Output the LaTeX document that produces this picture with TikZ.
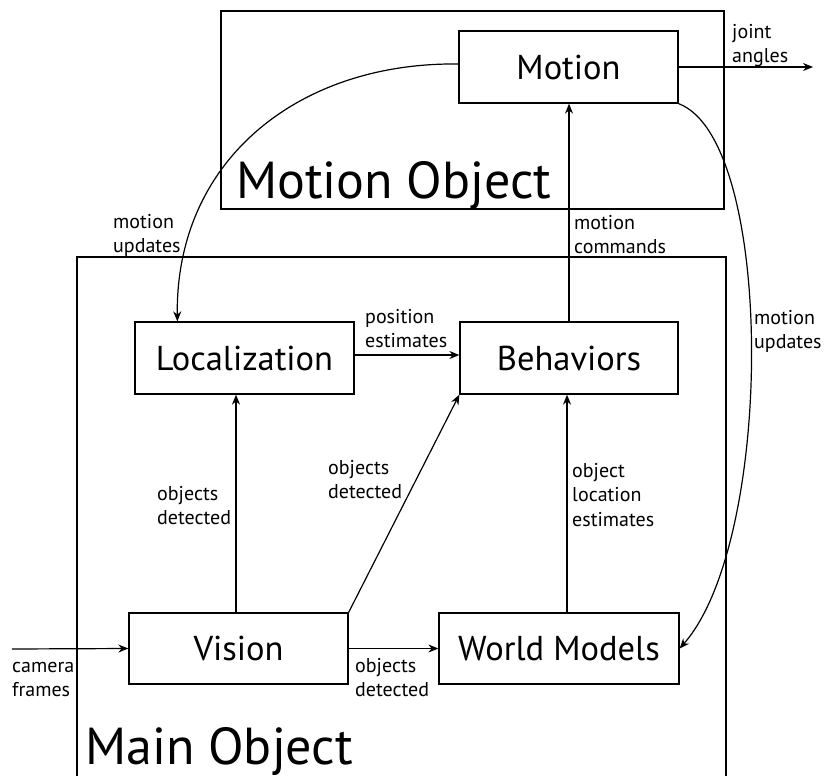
\documentclass[tikz,border=0pt]{standalone}
\usepackage{fontspec}
\setmainfont{PT Sans}
\usetikzlibrary{arrows.meta,calc}
\begin{document}
\begin{tikzpicture}[x=1pt,y=-1pt,
  box/.style={draw,line width=1.3pt,minimum width=219pt,minimum height=72pt,inner sep=0pt,font=\fontsize{34.5}{36}\selectfont},
  frame/.style={draw,line width=1.3pt},
  conn/.style={line width=1.2pt,-{Stealth[length=10pt,width=8pt]}},
  lbl/.style={inner sep=0pt,anchor=base west,font=\fontsize{20}{24.5}\selectfont},
  title/.style={inner sep=0pt,anchor=base west,font=\fontsize{52}{54}\selectfont}]
\useasboundingbox (0,0) rectangle (829,776);
\clip (0,0) rectangle (829,776);
% containers
\node[frame,minimum width=503pt,minimum height=198pt,inner sep=0pt] (motobj) at (472.5,110) {};
\node[title] (motobjlbl) at (236,198) {Motion Object};
\coordinate (mainbl) at (77,776);
\coordinate (mainbr) at (726,776);
\draw[frame] (mainbl) -- (77,257) -- (726,257) -- (mainbr);
\node[title] (mainlbl) at (85,764) {Main Object};
% boxes
\node[box] (motion) at (568.5,67) {Motion};
\node[box] (loc) at (244.5,358) {Localization};
\node[box,minimum width=218pt] (beh) at (569,358) {Behaviors};
\node[box,minimum height=71pt] (vision) at (238.5,648.5) {Vision};
\node[box,minimum width=240pt,minimum height=71pt] (world) at (559,648.5) {World Models};
% free ends
\coordinate (jointend) at (813,67);
\coordinate (camstart) at (12,649);
% connectors
\draw[conn] (motion.east) -- (jointend);
\node[lbl] (jointlbl) at (732,38) {\vtop{\hbox{joint}\hbox{angles}}};
\draw[conn] (beh.north) -- (beh.north |- motion.south);
\node[lbl] (cmdlbl) at (574,229) {\vtop{\hbox{motion}\hbox{commands}}};
\draw[conn] (loc.east |- 0,355) -- (beh.west |- 0,355);
\node[lbl] (poslbl) at (365,323) {\vtop{\hbox{position}\hbox{estimates}}};
\draw[conn] (vision.north -| 236,0) -- (loc.south -| 236,0);
\node[lbl] (vislocl) at (157,500) {\vtop{\hbox{objects}\hbox{detected}}};
\draw[conn] (vision.north east) -- (beh.south west);
\node[lbl] (visbehl) at (328,474) {\vtop{\hbox{objects}\hbox{detected}}};
\draw[conn] (world.north -| 567,0) -- (beh.south -| 567,0);
\node[lbl] (worldbehl) at (572,477) {\vtop{\hbox{object}\hbox{location}\hbox{estimates}}};
\draw[conn] (vision.east) -- (world.west);
\node[lbl] (visworldl) at (355,672) {\vtop{\hbox{objects}\hbox{detected}}};
\draw[conn] (camstart) -- (vision.west);
\node[lbl] (camlbl) at (12,672) {\vtop{\hbox{camera}\hbox{frames}}};
\draw[conn] ($(motion.west)+(0,-3)$) .. controls +(-159,-2) and +(-2,-162) .. ($(loc.north west)+(43,0)$);
\node[lbl] (updl) at (113,228) {\vtop{\hbox{motion}\hbox{updates}}};
\draw[conn] (motion.south east) .. controls (775,140) and (775,540) .. (world.east);
\node[lbl] (updr) at (754,324) {\vtop{\hbox{motion}\hbox{updates}}};
\end{tikzpicture}
\end{document}
